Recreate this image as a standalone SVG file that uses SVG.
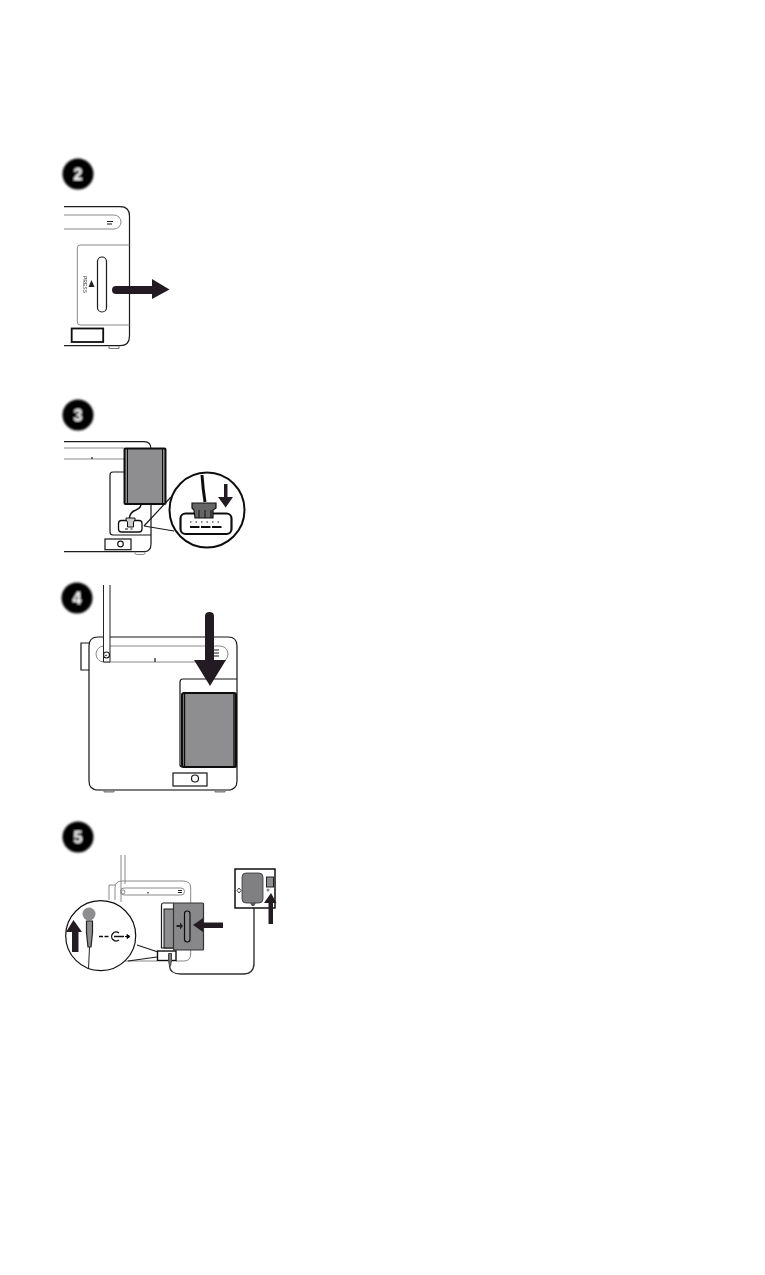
<svg xmlns="http://www.w3.org/2000/svg" width="765" height="1275" viewBox="0 0 765 1275">
<defs>
<filter id="soft" x="-20%" y="-20%" width="140%" height="140%"><feGaussianBlur stdDeviation="0.9"/></filter>
<filter id="softer" x="-5%" y="-5%" width="110%" height="110%"><feGaussianBlur stdDeviation="0.3"/></filter>
</defs>
<style>
.k{fill:none;stroke:#1a1a1a;stroke-width:1.2}
.g{fill:none;stroke:#8a8a8a;stroke-width:1}
.bat{fill:#8e8e90;stroke:#111;stroke-width:2}
.a{fill:#231f20;stroke:none}
.d{font-family:"Liberation Sans",Arial,sans-serif;font-weight:700;font-size:16px;fill:#fff;text-anchor:middle}
.p{font-family:"Liberation Sans",Arial,sans-serif;font-size:5px;fill:#333;text-anchor:middle}
</style>
<rect width="765" height="1275" fill="#fff"/>

<g id="badge-2" filter="url(#soft)"><circle cx="78" cy="174" r="15.5" fill="#000"/><text class="d" x="78" y="180">2</text></g>
<g id="badge-3" filter="url(#soft)"><circle cx="78" cy="415" r="15.5" fill="#000"/><text class="d" x="78" y="421">3</text></g>
<g id="badge-4" filter="url(#soft)"><circle cx="77" cy="598" r="15.5" fill="#000"/><text class="d" x="77" y="604">4</text></g>
<g id="badge-5" filter="url(#soft)"><circle cx="78" cy="837" r="15.5" fill="#000"/><text class="d" x="78" y="843">5</text></g>

<g id="step-2" filter="url(#softer)">
<path class="k" d="M64 206.7H120Q129.5 206.7 129.5 216V336Q129.5 345.7 120 345.7H64"/>
<path class="g" d="M64 215H114A7 7 0 0 1 114 229H64"/>
<path class="k" d="M107 221.5H113M107 224H112"/>
<path class="g" d="M129.5 245H80Q77.3 245 77.3 248V322Q77.3 325 80 325H129.5"/>
<rect class="k" x="97.5" y="257" width="9" height="55" rx="4.5"/>
<path d="M91.5 280L94.5 287H88.5Z" fill="#222"/>
<text class="p" transform="translate(82.5 284.5) rotate(90)">PRESS</text>
<rect x="71.7" y="328.5" width="31.5" height="13.5" fill="#fff" stroke="#111" stroke-width="1.8"/>
<path d="M109 346.5V347.5Q109 348.5 110 348.5H118Q119 348.5 119 347.5V346.5" fill="none" stroke="#777" stroke-width="1.2"/>
<path class="a" d="M116 286H152V279L169.5 289.5L152 299V294H116A4 4 0 0 1 116 286Z"/>
</g>

<g id="step-3" filter="url(#softer)">
<path class="k" d="M64 441.7H144Q151 441.7 151 449V544Q151 551.7 144 551.7H64"/>
<path class="g" d="M64 448H124M64 459H124"/>
<path class="k" d="M92 457V459"/>
<path class="k" d="M124 472H113Q110 472 110 475V532Q110 535 113 535H151"/>
<rect class="bat" x="124.5" y="448.5" width="41" height="55.5" rx="1"/>
<path d="M127.5 449V504M162.5 449V504" stroke="#111" stroke-width="1" fill="none"/>
<rect class="k" x="105" y="539" width="26" height="10.7" fill="#fff"/>
<circle class="k" cx="120.5" cy="544" r="2.8"/>
<path class="g" d="M135 551.7V553Q135 554.5 137 554.5H143Q145 554.5 145 553V551.7"/>
<rect x="118.5" y="520.5" width="23.5" height="11.5" rx="3" fill="#fff" stroke="#111" stroke-width="1.3"/>
<path d="M126 518H135V520L133.5 522V527H127.5V522L126 520Z" fill="#ccc" stroke="#111"/>
<path d="M130.5 529H132.5M125 529H128" stroke="#111" stroke-width="1"/>
<path d="M129.5 518Q130 512 136 510Q141 508 141 504" fill="none" stroke="#111" stroke-width="1.5"/>
<path class="k" d="M144 526L171 497M144 526L174 531"/>
<circle cx="207" cy="510" r="37.5" fill="#fff" stroke="#111" stroke-width="2"/>
<rect x="180.5" y="513.5" width="51" height="20.5" rx="5" fill="#fff" stroke="#111" stroke-width="2.2"/>
<path d="M190 522H222" stroke="#111" stroke-width="1" stroke-dasharray="1.5 4" fill="none"/>
<path d="M190 527H222" stroke="#111" stroke-width="2" stroke-dasharray="9.5 1.5" fill="none"/>
<path d="M202 475Q203 490 205 502" fill="none" stroke="#111" stroke-width="3"/>
<path d="M192 503H216V508L213 510V518H195L194 510L192 508Z" fill="#666" stroke="#111" stroke-width="1.2"/>
<path d="M199 510V518M205 510V518M211 510V518" stroke="#111" fill="none"/>
<path class="a" d="M224 484H227.5V497H233L225.7 507.5L218 497H224Z"/>
</g>

<g id="step-4" filter="url(#softer)">
<path class="k" d="M98 637H228Q237 637 237 646V781Q237 790 228 790H98Q89 790 89 781V646Q89 637 98 637Z"/>
<path class="k" d="M89 643H81V670H89"/>
<path class="g" d="M104 646H220A8 8 0 0 1 220 662H104A8 8 0 0 1 104 646Z"/>
<path class="k" d="M155 658V662"/>
<path d="M103.5 585V662H110V585" fill="#fff" stroke="#222" stroke-width="1"/>
<circle class="k" cx="106.5" cy="655" r="3"/>
<circle cx="106" cy="655.5" r="0.8" fill="#111"/>
<path class="k" d="M213 650H219M213 653H219M213 656H219"/>
<path class="k" d="M237 679H183Q180 679 180 682V765Q180 767 183 767H237"/>
<rect class="bat" x="182" y="693" width="54" height="74" rx="2"/>
<path d="M184.5 694V767M234 694V767" stroke="#111" stroke-width="1.4" fill="none"/>
<rect class="k" x="173" y="773" width="34" height="13" fill="#fff"/>
<circle class="k" cx="195" cy="778.5" r="3.5"/>
<path d="M104 790.5V792H114V790.5M215 790.5V792H225V790.5" fill="#aaa" stroke="#777"/>
<path d="M95 790H231" stroke="#777" stroke-width="1.6" fill="none"/>
<path class="a" d="M205 616Q205 612 209.5 612Q214 612 214 616V660H226L210 686L194 660H205Z"/>
</g>

<g id="step-5" filter="url(#softer)">
<path class="g" d="M121 855V902M125 855V884"/>
<path class="g" d="M115 900V888Q115 881 122 881H183Q190.7 881 190.7 888V903M190.7 948V954Q190.7 961 184 961H176M157 961H125"/>
<path class="g" d="M124 888H181A3.5 3.5 0 0 1 181 895H124A3.5 3.5 0 0 1 124 888Z"/>
<circle class="g" cx="123" cy="892" r="2"/>
<path class="k" d="M148 892V893.5M178 890.5H182M178 892.5H182"/>
<path class="g" d="M109 900V885H115"/>
<path class="k" d="M174 903H163Q161.5 903 161.5 905V948H174"/>
<rect x="164" y="909" width="10" height="39" fill="#8e8e90" stroke="#111"/>
<rect x="173.5" y="903" width="30" height="47" rx="1" fill="#88888a" stroke="#333" stroke-width="1.2"/>
<rect x="184.5" y="911" width="5.5" height="31" rx="2.7" fill="#8e8e90" stroke="#111" stroke-width="1.2"/>
<path d="M176.5 925H180V922.5L183 926L180 929.5V927H176.5Z" fill="#222"/>
<rect x="157.5" y="951" width="18.5" height="9.5" fill="#fff" stroke="#111" stroke-width="1.4"/>
<path d="M168.5 953.5H171.5V960L170.5 966H169.5L168.5 960Z" stroke="#444" stroke-width="1" fill="#777"/>
<path d="M169.5 966Q170 974 181 974H243Q254 974 254 963V905" fill="none" stroke="#333" stroke-width="1.4"/>
<path class="a" d="M223 922.5H203V918L193 925L203 932V928H223Z"/>
<rect x="235" y="869" width="40" height="39" fill="#fff" stroke="#111" stroke-width="1.5"/>
<rect x="242" y="873" width="21" height="30" rx="4" fill="#808083" stroke="#333" stroke-width="0.8"/>
<path d="M250 903H256L254 906H252Z" fill="#555"/>
<path d="M239 888L241 890.5L239 893L237 890.5Z" fill="none" stroke="#444"/>
<rect x="266.5" y="877" width="7" height="10" fill="#8e8e90" stroke="#222"/>
<path class="a" d="M268.5 924V903H264L271 893L276.5 903H273V924Z"/>
<circle cx="268" cy="890" r="1.5" fill="#888"/>
<path class="k" d="M137 945L158 952M128 961L157 957"/>
<circle cx="100.7" cy="935.7" r="35" fill="#fff" stroke="#111" stroke-width="1.2"/>
<circle cx="89" cy="914" r="6.5" fill="#8e8e90"/>
<path d="M86.5 921H92.5V933L91 947H88L86.5 933Z" fill="#8e8e90" stroke="#222" stroke-width="1.2"/>
<path d="M89.5 947L88.5 969" fill="none" stroke="#222"/>
<path class="a" d="M72 952V932H66L73.5 920L82 932H78.5V952Z"/>
<path d="M99 936.5H110" stroke="#111" stroke-width="1.5" stroke-dasharray="4 1.5" fill="none"/>
<path d="M119 933A4.5 4.5 0 1 0 119 940M114 936.5H124" fill="none" stroke="#111" stroke-width="1.3"/>
<path d="M125 936.5H127M127 934.5L130 936.5L127 938.5Z" stroke="#111" fill="#111"/>
</g>
</svg>
